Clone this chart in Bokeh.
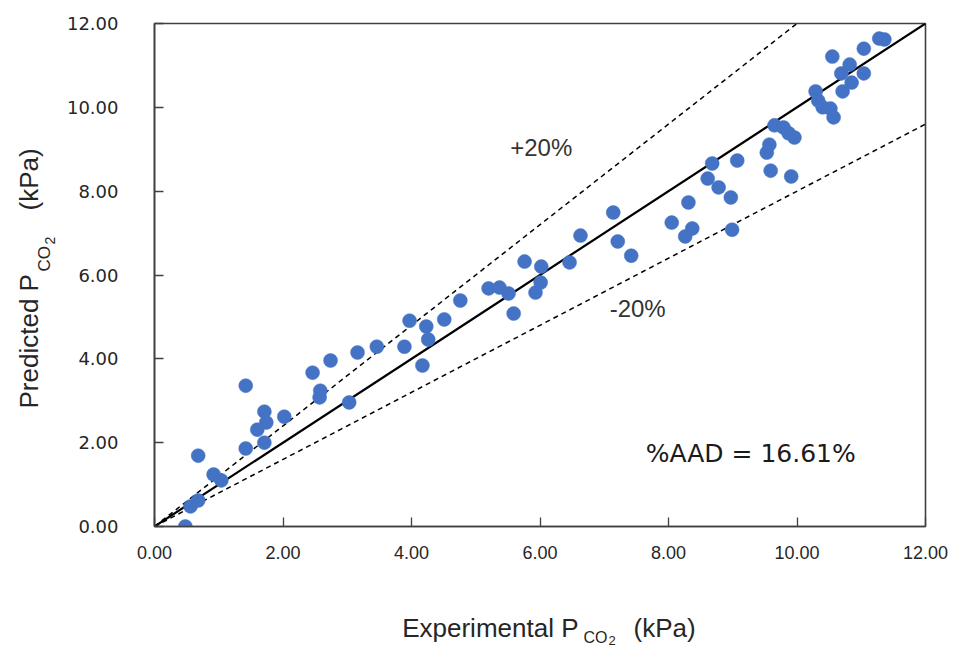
import math
from bokeh.plotting import figure
from bokeh.layouts import column, row
from bokeh.models import Range1d, FixedTicker, PrintfTickFormatter, Label, ColumnDataSource
from bokeh.embed import file_html
from bokeh.resources import INLINE

# Experimental vs. predicted CO2 partial pressure (kPa)
experimental = [0.48, 0.56, 0.68, 0.68, 0.92, 1.04, 1.42, 1.42, 1.60, 1.71,
                1.74, 1.71, 2.02, 2.46, 2.57, 2.58, 2.74, 3.03, 3.16, 3.46,
                3.89, 3.97, 4.17, 4.23, 4.26, 4.51, 4.76, 5.20, 5.37, 5.51,
                5.59, 5.76, 5.93, 6.01, 6.02, 6.46, 6.63, 7.14, 7.21, 7.42,
                8.05, 8.26, 8.37, 8.31, 8.61, 8.68, 8.78, 8.97, 8.99, 9.07,
                9.53, 9.57, 9.59, 9.65, 9.79, 9.87, 9.91, 9.96, 10.29, 10.33,
                10.40, 10.52, 10.57, 10.55, 10.71, 10.69, 10.82, 10.85, 11.04, 11.04,
                11.28, 11.36]
predicted = [0.00, 0.48, 0.62, 1.69, 1.24, 1.10, 3.36, 1.86, 2.31, 2.74,
             2.48, 2.00, 2.62, 3.67, 3.08, 3.24, 3.96, 2.96, 4.15, 4.29,
             4.29, 4.91, 3.84, 4.77, 4.46, 4.94, 5.39, 5.68, 5.70, 5.56,
             5.08, 6.32, 5.58, 5.82, 6.20, 6.30, 6.94, 7.49, 6.80, 6.46,
             7.25, 6.92, 7.11, 7.73, 8.30, 8.66, 8.09, 7.85, 7.08, 8.73,
             8.92, 9.11, 8.49, 9.57, 9.52, 9.38, 8.35, 9.28, 10.38, 10.16,
             10.00, 9.97, 9.76, 11.21, 10.38, 10.81, 11.02, 10.59, 10.81, 11.40,
             11.64, 11.62]

axis_ticks = [0, 2, 4, 6, 8, 10, 12]
parity_x = [0, 12]
band_upper = 1.2   # +20 % deviation
band_lower = 0.8   # -20 % deviation
aad_text = "%AAD = 16.61%"

AXIS_COLOR = "#404040"
TEXT_COLOR = "#262626"

W, H = 959, 647
YT_W = 60        # strip holding the rotated y title
XT_H = 47        # strip holding the x title
MAIN_H = H - XT_H

p = figure(width=W - YT_W, height=MAIN_H, output_backend="svg", toolbar_location=None,
           x_range=Range1d(0, 12), y_range=Range1d(0, 12), frame_align=False,
           min_border_left=154 - YT_W, min_border_right=34,
           min_border_top=23, min_border_bottom=MAIN_H - 526)
p.background_fill_color = "white"
p.border_fill_color = "white"
p.outline_line_color = AXIS_COLOR
p.outline_line_width = 1.6
p.xgrid.visible = False
p.ygrid.visible = False

for ax in (p.xaxis[0], p.yaxis[0]):
    ax.ticker = FixedTicker(ticks=axis_ticks)
    ax.formatter = PrintfTickFormatter(format="%.2f")
    ax.axis_line_color = AXIS_COLOR
    ax.axis_line_width = 1.6
    ax.major_tick_line_color = AXIS_COLOR
    ax.major_tick_line_width = 1.3
    ax.major_tick_in = 9
    ax.major_tick_out = 0
    ax.minor_tick_line_color = None
    ax.major_label_text_color = TEXT_COLOR
    ax.major_label_text_font_size = "18px"

p.yaxis[0].major_label_text_font = "DejaVu Sans"
p.yaxis[0].major_label_standoff = 36
p.xaxis[0].major_label_text_font = "Liberation Sans"
p.xaxis[0].major_label_standoff = 19

# parity line and +/-20 % bands
p.line(parity_x, parity_x, line_color="black", line_width=2.2)
p.line(parity_x, [v * band_upper for v in parity_x], line_color="black",
       line_width=1.5, line_dash="5 4")
p.line(parity_x, [v * band_lower for v in parity_x], line_color="black",
       line_width=1.5, line_dash="5 4")

src = ColumnDataSource(dict(x=experimental, y=predicted))
p.scatter("x", "y", source=src, size=14, fill_color="#4472C4",
          line_color="#4472C4", line_width=0.5)

# in-plot annotations
p.add_layout(Label(x=6.02, y=9.05, text="+20%", text_font="Liberation Sans",
                   text_font_size="24px", text_color="#333333",
                   text_align="center", text_baseline="middle"))
p.add_layout(Label(x=7.52, y=5.21, text="-20%", text_font="Liberation Sans",
                   text_font_size="24px", text_color="#333333",
                   text_align="center", text_baseline="middle"))
p.add_layout(Label(x=9.28, y=1.75, text=aad_text, text_font="DejaVu Sans",
                   text_font_size="25px", text_color="#1a1a1a",
                   text_align="center", text_baseline="middle"))


def title_strip(width, height, x0, y0):
    """Blank canvas whose data coordinates are page pixels (y grows downward)."""
    f = figure(width=width, height=height, output_backend="svg", toolbar_location=None,
               x_range=Range1d(x0, x0 + width), y_range=Range1d(y0 + height, y0),
               x_axis_type=None, y_axis_type=None, frame_align=False,
               min_border=0, min_border_left=0, min_border_right=0,
               min_border_top=0, min_border_bottom=0)
    f.outline_line_color = None
    f.xgrid.visible = False
    f.ygrid.visible = False
    f.background_fill_color = "white"
    f.border_fill_color = "white"
    return f


title_font = "Liberation Sans"
def piece(f, px, py, text, size, angle=0.0, align="left"):
    f.add_layout(Label(x=px, y=py, text=text, text_font=title_font,
                       text_font_size=size, text_color=TEXT_COLOR, angle=angle,
                       text_align=align, text_baseline="alphabetic"))

# y title (rotated, reading bottom to top) with CO2 subscript
ytitle = title_strip(YT_W, MAIN_H, 0, 0)
up = math.pi / 2
piece(ytitle, 28, 408, "Predicted P", "26px", angle=up)
piece(ytitle, 44, 271, "CO", "17px", angle=up)
piece(ytitle, 49, 244, "2", "14px", angle=up)
piece(ytitle, 28, 210, "(kPa)", "26px", angle=up)

# x title with CO2 subscript
xtitle = title_strip(W, XT_H, 0, MAIN_H)
piece(xtitle, 578, 627, "Experimental P", "26px", align="right")
piece(xtitle, 583, 637, "CO", "16px")
piece(xtitle, 608, 640, "2", "13px")
piece(xtitle, 633, 627, "(kPa)", "26px")

page = column(row(ytitle, p, spacing=0), xtitle, spacing=0)

open("out.html", "w").write(file_html(page, INLINE))
